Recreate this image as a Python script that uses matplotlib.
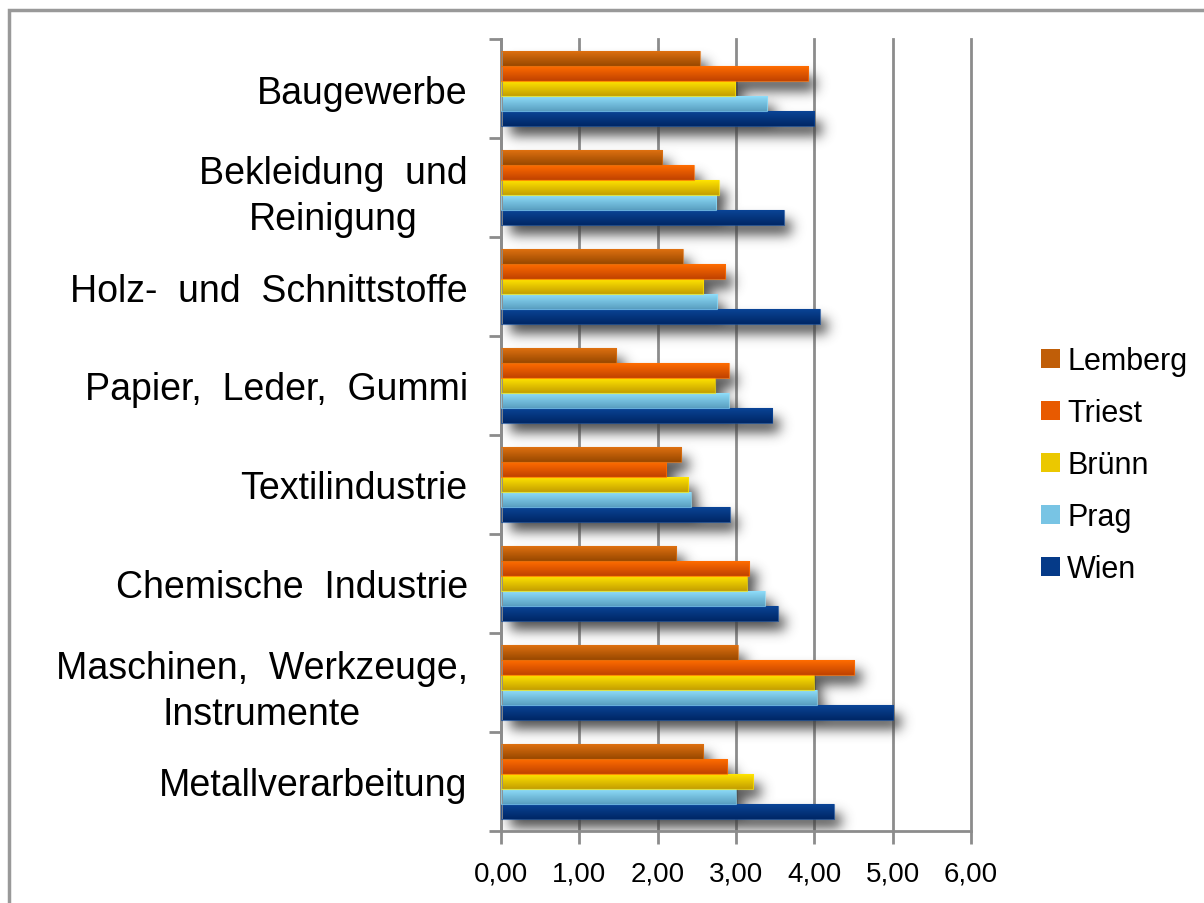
import matplotlib
matplotlib.use("Agg")
import matplotlib.pyplot as plt
import numpy as np
from matplotlib.patches import Patch, Rectangle

# categories from bottom to top
categories = [
    "Metallverarbeitung",
    "Maschinen,  Werkzeuge,\nInstrumente",
    "Chemische  Industrie",
    "Textilindustrie",
    "Papier,  Leder,  Gummi",
    "Holz-  und  Schnittstoffe",
    "Bekleidung  und\nReinigung",
    "Baugewerbe",
]
series = ["Wien", "Prag", "Brünn", "Triest", "Lemberg"]

wien    = [4.25, 5.01, 3.53, 2.92, 3.46, 4.07, 3.61, 4.00]
prag    = [3.00, 4.03, 3.37, 2.42, 2.91, 2.76, 2.75, 3.40]
bruenn  = [3.22, 3.99, 3.14, 2.39, 2.73, 2.58, 2.78, 2.99]
triest  = [2.89, 4.51, 3.17, 2.11, 2.91, 2.86, 2.46, 3.92]
lemberg = [2.58, 3.02, 2.24, 2.30, 1.47, 2.32, 2.06, 2.54]
values = [wien, prag, bruenn, triest, lemberg]

x_ticks = [0, 1, 2, 3, 4, 5, 6]

# gradient colours (top, bottom) per series
grad_colors = {
    "Wien":    ("#0A4496", "#002766"),
    "Prag":    ("#8EDDFA", "#5A9FC0"),
    "Brünn":   ("#FFE400", "#C49E00"),
    "Triest":  ("#FF6C00", "#C04200"),
    "Lemberg": ("#DE7010", "#984800"),
}
legend_colors = {
    "Wien": "#053A88", "Prag": "#78C4E4", "Brünn": "#EBC800",
    "Triest": "#E85A00", "Lemberg": "#C05E08",
}

plt.rcParams["font.family"] = ["Liberation Sans", "DejaVu Sans"]

fig = plt.figure(figsize=(12.04, 9.04), dpi=100)
ax = fig.add_axes([501 / 1204, 1 - 832 / 904, 470 / 1204, 792 / 904])

bar_h = 0.1515
n = len(series)


def hex_rgb(h):
    h = h.lstrip("#")
    return np.array([int(h[i:i + 2], 16) / 255 for i in (0, 2, 4)])


# soft drop shadow, computed from the bar values
xs = np.arange(-0.3, 6.5, 0.01)
ys = np.arange(-0.3, 8.3, 0.01)
shadow = np.zeros((len(ys), len(xs)))
dx, dy = 0.1, 0.1
for s, vals in enumerate(values):
    for i, v in enumerate(vals):
        y0 = i + 0.5 + (s - n / 2) * bar_h
        mx = (xs >= 0.02 + dx) & (xs <= v + dx)
        my = (ys >= y0 - dy) & (ys <= y0 + bar_h - dy)
        shadow[np.ix_(my, mx)] = 1.0


def gauss_kernel(sigma):
    r = int(3 * sigma)
    t = np.arange(-r, r + 1)
    k = np.exp(-t ** 2 / (2 * sigma ** 2))
    return k / k.sum()


kx = gauss_kernel(8)
ky = gauss_kernel(6)
shadow = np.apply_along_axis(lambda m: np.convolve(m, kx, mode="same"), 1, shadow)
shadow = np.apply_along_axis(lambda m: np.convolve(m, ky, mode="same"), 0, shadow)
rgba = np.zeros(shadow.shape + (4,))
rgba[..., :3] = 0.25
rgba[..., 3] = np.clip(shadow * 0.9, 0, 1)
ax.imshow(rgba, extent=(xs[0], xs[-1], ys[0], ys[-1]), origin="lower",
          aspect="auto", zorder=1, interpolation="bilinear")

# bars with vertical gradient
t = np.linspace(0, 1, 64)[:, None]
for s, name in enumerate(series):
    top, bot = hex_rgb(grad_colors[name][0]), hex_rgb(grad_colors[name][1])
    grad = (top[None, :] * (1 - t) + bot[None, :] * t)[:, None, :]
    for i, v in enumerate(values[s]):
        y0 = i + 0.5 + (s - n / 2) * bar_h
        ax.imshow(grad, extent=(0, v, y0, y0 + bar_h), origin="upper",
                  aspect="auto", zorder=2, interpolation="bilinear")
        ax.add_patch(Rectangle((0, y0), v, bar_h, fill=False,
                               edgecolor=top, lw=0.8, alpha=0.7, zorder=3))

ax.set_xlim(0, 6)
ax.set_ylim(0, 8)

# grid and axes
ax.set_xticks(x_ticks)
ax.set_xticklabels([f"{v:.2f}".replace(".", ",") for v in x_ticks], fontsize=20)
ax.xaxis.grid(True, color="#8C8C8C", lw=2, zorder=0.5)
for gl in ax.get_xgridlines():
    gl.set_clip_on(False)
ax.set_axisbelow(True)
ax.set_yticks(range(9))
ax.set_yticklabels([])
ax.set_yticks([i + 0.5 for i in range(8)], minor=True)
ax.set_yticklabels(categories, minor=True, fontsize=27, multialignment="center",
                   linespacing=1.35)
ax.tick_params(axis="y", which="major", length=9, width=2, color="#8C8C8C",
               direction="out")
ax.tick_params(axis="y", which="minor", length=0, pad=24)
ax.tick_params(axis="x", length=9, width=2, color="#8C8C8C", direction="out",
               pad=12)
for side in ("top", "right"):
    ax.spines[side].set_visible(False)
for side in ("left", "bottom"):
    ax.spines[side].set_color("#8C8C8C")
    ax.spines[side].set_linewidth(2)

# legend (Lemberg on top)
handles = [Patch(facecolor=legend_colors[name], edgecolor="none") for name in series[::-1]]
fig.legend(handles, series[::-1], loc="center left",
           bbox_to_anchor=(1026 / 1204, 1 - 466 / 904), frameon=False,
           fontsize=22, handlelength=0.6, handleheight=0.6,
           handletextpad=0.25, labelspacing=0.72, borderpad=0)

# outer border
fig.add_artist(Rectangle((9 / 1204, -0.1), 1.2, 1.1 - 11 / 904,
                         transform=fig.transFigure, fill=False,
                         edgecolor="#999999", lw=2.5))

fig.savefig("out.png", dpi=100)
